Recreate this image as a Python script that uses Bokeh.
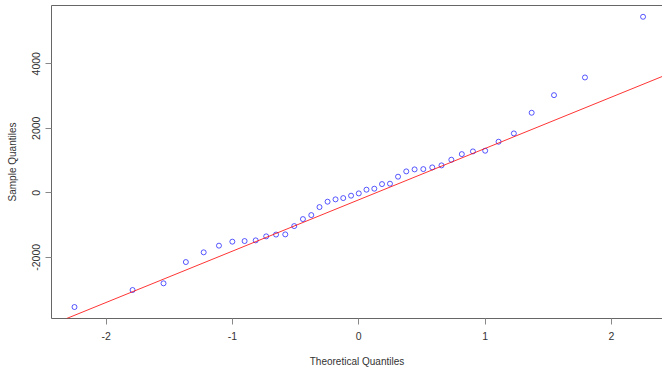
from bokeh.plotting import figure
from bokeh.models import FixedTicker, LinearAxis, Slope, Range1d
from bokeh.embed import file_html
from bokeh.resources import INLINE

# Theoretical quantiles (n = 41) and sorted sample values
theoretical = [-2.251, -1.791, -1.546, -1.369, -1.228, -1.107, -1.001, -0.904, -0.816, -0.733,
               -0.655, -0.582, -0.511, -0.442, -0.376, -0.311, -0.247, -0.184, -0.123, -0.061,
               0.0, 0.061, 0.123, 0.184, 0.247, 0.311, 0.376, 0.442, 0.511, 0.582,
               0.655, 0.733, 0.816, 0.904, 1.001, 1.107, 1.228, 1.369, 1.546, 1.791, 2.251]
sample = [-3541, -3014, -2807, -2147, -1846, -1639, -1515, -1496, -1475, -1351,
          -1295, -1290, -1032, -815, -691, -443, -276, -204, -164, -90,
          -19, 96, 127, 270, 282, 499, 663, 725, 734, 787,
          849, 1025, 1199, 1283, 1304, 1583, 1840, 2481, 3027, 3575, 5456]

# reference line (qqline)
line_slope = 1591
line_intercept = -217

x_ticks = [-2, -1, 0, 1, 2]
x_tick_labels = ["-2", "-1", "0", "1", "2"]
y_ticks = [-2000, 0, 2000, 4000]
y_tick_labels = ["-2000", "0", "2000", "4000"]

FONT = "Liberation Sans"
AXIS_COLOR = "#666666"
TEXT_COLOR = "#333333"

p = figure(width=662, height=372, output_backend="svg", toolbar_location=None,
           x_range=Range1d(-2.433, 2.405), y_range=Range1d(-3897, 5806),
           min_border_left=51, min_border_right=0, min_border_top=5, min_border_bottom=54)

p.background_fill_color = "white"
p.border_fill_color = "white"
p.outline_line_color = None
p.xgrid.visible = False
p.ygrid.visible = False

p.scatter(theoretical, sample, marker="circle", size=5, fill_color=None,
          line_color="#0000FF", line_alpha=0.65, line_width=1)

p.add_layout(Slope(gradient=line_slope, y_intercept=line_intercept,
                   line_color="#FF0000", line_alpha=0.8, line_width=1))

bottom = p.below[0]
left = p.left[0]

for ax in (bottom, left):
    ax.axis_line_color = AXIS_COLOR
    ax.major_tick_line_color = "#888888"
    ax.major_tick_out = 6
    ax.major_tick_in = 0
    ax.minor_tick_line_color = None
    ax.major_label_text_font = FONT
    ax.major_label_text_font_size = "10.5px"
    ax.major_label_text_color = TEXT_COLOR
    ax.axis_label_text_font = FONT
    ax.axis_label_text_font_size = "10px"
    ax.axis_label_text_font_style = "normal"
    ax.axis_label_text_color = TEXT_COLOR

bottom.ticker = FixedTicker(ticks=x_ticks)
left.ticker = FixedTicker(ticks=y_ticks)
bottom.major_label_overrides = {t: s for t, s in zip(x_ticks, x_tick_labels)}
left.major_label_overrides = {t: s for t, s in zip(y_ticks, y_tick_labels)}
bottom.axis_label = "Theoretical Quantiles"
left.axis_label = "Sample Quantiles"
left.major_label_orientation = "vertical"
bottom.major_label_standoff = 7
left.major_label_standoff = 5
bottom.axis_label_standoff = 13
left.axis_label_standoff = 12

# top border line
top_axis = LinearAxis(ticker=FixedTicker(ticks=[]), major_tick_out=0, major_tick_in=0,
                      minor_tick_out=0, minor_tick_in=0, minor_tick_line_color=None,
                      major_tick_line_color=None, major_label_text_font_size="0px",
                      axis_line_color=AXIS_COLOR, major_label_standoff=0)
p.add_layout(top_axis, "above")

open("out.html", "w").write(file_html(p, INLINE))
